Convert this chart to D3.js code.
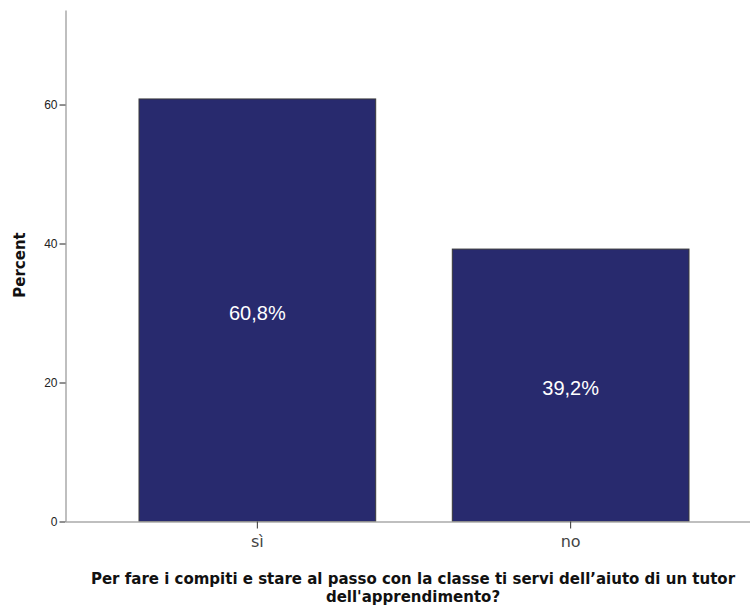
<!DOCTYPE html>
<html>
<head>
<meta charset="utf-8">
<script src="https://cdn.jsdelivr.net/npm/d3@7"></script>
<style>
  body { margin: 0; background: #fff; }
</style>
</head>
<body>
<svg width="750" height="611"></svg>
<script>
const categories = ['sì', 'no']
const percents = [60.8, 39.2]
const yTicks = [0, 20, 40, 60]
const yTitle = 'Percent'
const xTitle = ['Per fare i compiti e stare al passo con la classe ti servi dell\u2019aiuto di un tutor', "dell'apprendimento?"]

const svg = d3.select('svg')
const x0 = 65.5, yBase = 521.5, yTop = 10

const yScale = d3.scaleLinear().domain([0, 73.6]).range([yBase, yTop])
const xScale = d3.scaleBand()
  .domain(categories)
  .range([x0, 762.5])
  .paddingInner(0.2445)
  .paddingOuter(0.2346)

// bars
svg.selectAll('rect.bar')
  .data(categories)
  .join('rect')
  .attr('class', 'bar')
  .attr('x', d => xScale(d))
  .attr('y', (d, i) => yScale(percents[i]))
  .attr('width', xScale.bandwidth())
  .attr('height', (d, i) => yBase - yScale(percents[i]))
  .attr('fill', '#282a6e')
  .attr('stroke', '#3a3a3a')
  .attr('stroke-width', 1)

// bar labels
svg.selectAll('text.lbl')
  .data(categories)
  .join('text')
  .attr('class', 'lbl')
  .attr('x', d => xScale(d) + xScale.bandwidth() / 2)
  .attr('y', (d, i) => (yScale(percents[i]) + yBase) / 2 + 3)
  .attr('dominant-baseline', 'central')
  .attr('text-anchor', 'middle')
  .attr('fill', '#fff')
  .attr('font-family', 'Liberation Sans, Arial, sans-serif')
  .attr('font-size', '20px')
  .text((d, i) => String(percents[i]).replace('.', ',') + '%')

// y axis
const yAxis = svg.append('g')
  .attr('transform', `translate(${x0},0)`)
  .call(d3.axisLeft(yScale).tickValues(yTicks).tickSize(6).tickPadding(2).tickSizeOuter(0))
yAxis.select('.domain').attr('stroke', '#aaa').attr('stroke-width', 1.5)
yAxis.selectAll('.tick line').attr('stroke', '#222')
yAxis.selectAll('.tick text')
  .attr('font-family', 'Liberation Sans, Arial, sans-serif')
  .attr('font-size', '12px')
  .attr('fill', '#222')

// x axis
const xAxis = svg.append('g')
  .attr('transform', `translate(0,${yBase})`)
  .call(d3.axisBottom(xScale).tickSize(7).tickPadding(7).tickSizeOuter(0))
xAxis.select('.domain').attr('stroke', '#aaa').attr('stroke-width', 1.5)
xAxis.selectAll('.tick line').attr('stroke', '#333')
xAxis.selectAll('.tick text')
  .attr('font-family', 'DejaVu Sans, sans-serif')
  .attr('font-size', '16px')
  .attr('fill', '#444')

// axis titles
svg.append('text')
  .attr('transform', 'translate(25,265) rotate(-90)')
  .attr('text-anchor', 'middle')
  .attr('font-family', 'DejaVu Sans, sans-serif')
  .attr('font-weight', 'bold')
  .attr('font-size', '15px')
  .attr('fill', '#111')
  .text(yTitle)

svg.selectAll('text.xtitle')
  .data(xTitle)
  .join('text')
  .attr('class', 'xtitle')
  .attr('text-anchor', 'middle')
  .attr('font-family', 'DejaVu Sans, sans-serif')
  .attr('font-weight', 'bold')
  .attr('font-size', '15px')
  .attr('fill', '#111')
  .attr('x', 413)
  .attr('y', (d, i) => 584 + i * 18)
  .text(d => d)
</script>
</body>
</html>
